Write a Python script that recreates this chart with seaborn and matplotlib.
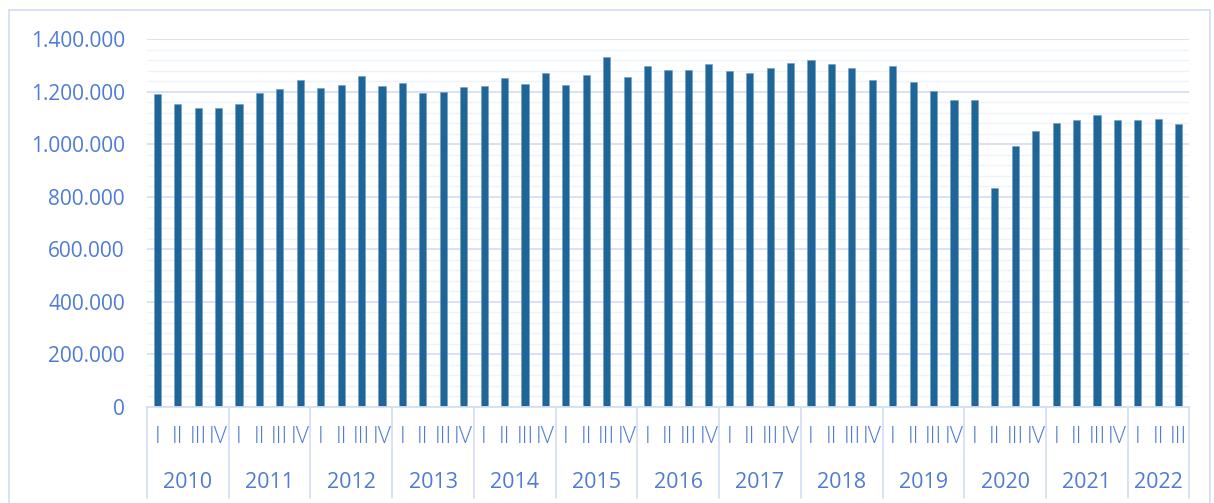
import seaborn as sns
import pandas as pd
import matplotlib.pyplot as plt
from matplotlib.ticker import MultipleLocator, FuncFormatter
from matplotlib.patches import Rectangle
import matplotlib.transforms as mtransforms

years = ["2010", "2011", "2012", "2013", "2014", "2015", "2016",
         "2017", "2018", "2019", "2020", "2021", "2022"]
quarters = ["I", "II", "III", "IV"]

values_2010 = [1191000, 1153000, 1136000, 1137000]
values_2011 = [1151000, 1195000, 1209000, 1244000]
values_2012 = [1215000, 1225000, 1259000, 1221000]
values_2013 = [1233000, 1195000, 1198000, 1217000]
values_2014 = [1222000, 1252000, 1230000, 1269000]
values_2015 = [1226000, 1264000, 1332000, 1254000]
values_2016 = [1298000, 1282000, 1283000, 1303000]
values_2017 = [1277000, 1271000, 1291000, 1308000]
values_2018 = [1321000, 1306000, 1290000, 1245000]
values_2019 = [1298000, 1236000, 1202000, 1167000]
values_2020 = [1167000, 832000, 992000, 1050000]
values_2021 = [1080000, 1090000, 1112000, 1090000]
values_2022 = [1093000, 1096000, 1077000]

all_values = [values_2010, values_2011, values_2012, values_2013, values_2014,
              values_2015, values_2016, values_2017, values_2018, values_2019,
              values_2020, values_2021, values_2022]

bar_color = "#1F6698"
text_color = "#4F7BD4"
line_color = "#D5DEF3"
minor_color = "#EEF2FA"

# Crear DataFrame
rows = []
for y, vals in zip(years, all_values):
    for q, v in zip(quarters, vals):
        rows.append({"period": y + " " + q, "year": y, "quarter": q, "value": v})
df = pd.DataFrame(rows)

sns.set_style("white")
plt.rcParams["font.family"] = ["Open Sans", "DejaVu Sans"]

fig = plt.figure(figsize=(12.14, 5.03), dpi=100)
ax = fig.add_axes([147 / 1214, 96 / 503, 1042 / 1214, 368 / 503])

sns.barplot(data=df, x="period", y="value", color=bar_color, width=0.35,
            saturation=1, edgecolor="#6E9BC4", linewidth=0.4, ax=ax)

ax.set_xlim(-0.5, len(df) - 0.5)
ax.set_ylim(0, 1400000)
ax.set_xlabel("")
ax.set_ylabel("")

# grid
ax.yaxis.set_major_locator(MultipleLocator(200000))
ax.yaxis.set_minor_locator(MultipleLocator(40000))
ax.grid(axis="y", which="major", color=line_color, linewidth=1.3)
ax.grid(axis="y", which="minor", color=minor_color, linewidth=1.0)
ax.set_axisbelow(True)

ax.yaxis.set_major_formatter(FuncFormatter(lambda v, p: f"{int(v):,}".replace(",", ".")))
ax.tick_params(axis="y", which="both", length=0, pad=16, labelsize=15, labelcolor=text_color)
ax.tick_params(axis="x", length=0)
ax.set_xticks([])

for s in ["top", "right", "left"]:
    ax.spines[s].set_visible(False)
ax.spines["bottom"].set_color(line_color)
ax.spines["bottom"].set_linewidth(1.3)

# multi-level x axis
trans = mtransforms.blended_transform_factory(ax.transData, ax.transAxes)
for i, q in enumerate(df["quarter"]):
    ax.text(i, -0.082, q, transform=trans, ha="center", va="center",
            fontsize=16.5, color=text_color, fontweight="light")

start = 0
bounds = [-0.5]
for y, vals in zip(years, all_values):
    mid = start + (len(vals) - 1) / 2
    ax.text(mid, -0.204, y, transform=trans, ha="center", va="center",
            fontsize=15.5, color=text_color)
    start += len(vals)
    bounds.append(start - 0.5)

for b in bounds:
    ax.plot([b, b], [0, -0.247], transform=trans, color=line_color,
            linewidth=1.3, clip_on=False)

# outer frame
fig.add_artist(Rectangle((9 / 1214, -0.1), 1201 / 1214, 1.1 - 10 / 503,
                         transform=fig.transFigure, fill=False,
                         edgecolor=line_color, linewidth=1.3))

plt.savefig("out.png", dpi=100)
#plt.show()
